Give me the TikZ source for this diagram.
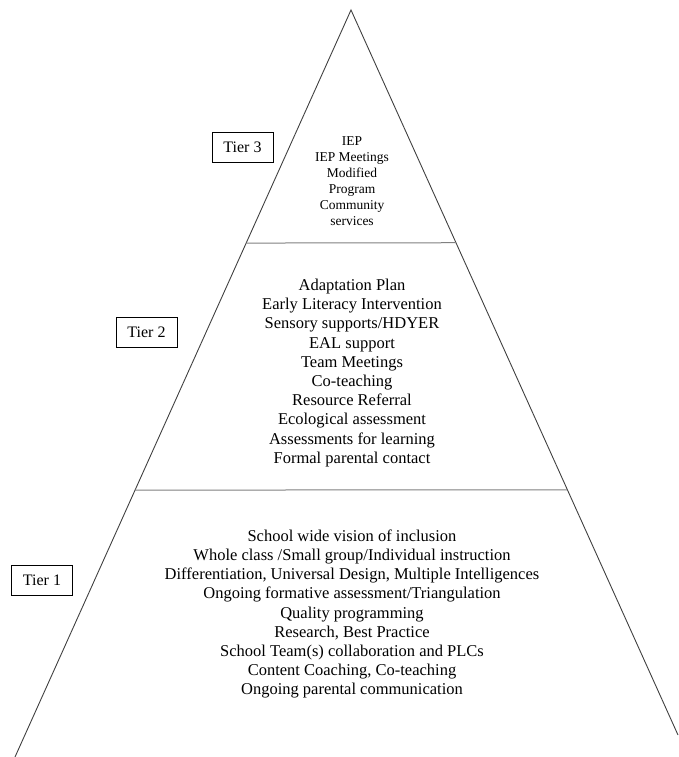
\documentclass[tikz,border=0pt]{standalone}
\usepackage{fontspec}
\setmainfont{Liberation Serif}
\usetikzlibrary{calc}
\tikzset{
  side/.style={draw=black!75,line width=0.9pt},
  split/.style={draw=black!50,line width=1pt},
  tierbox/.style={draw,line width=0.8pt,inner sep=0pt,minimum width=61pt,
                  minimum height=30pt,font=\fontsize{16}{19}\selectfont},
  items/.style={align=center,inner sep=0pt,font=\fontsize{16.5}{19.2}\selectfont},
  topitems/.style={align=center,inner sep=0pt,font=\fontsize{13.5}{16}\selectfont}
}
\begin{document}
\begin{tikzpicture}[x=1pt,y=-1pt]
  \useasboundingbox (0,0) rectangle (678,757);
  \coordinate (apex) at (351,10);
  \coordinate (footL) at (15,757);
  \coordinate (footR) at (678,735);
  \draw[side] (footL) -- (apex) -- (footR);
  % tier boundaries
  \coordinate (t3L) at ($(apex)!0.312!(footL)$);
  \coordinate (t3R) at ($(apex)!0.321!(footR)$);
  \coordinate (t2L) at ($(apex)!0.6426!(footL)$);
  \coordinate (t2R) at ($(apex)!0.662!(footR)$);
  \draw[split] (t3L) -- (t3R);
  \draw[split] (t2L) -- (t2R);
  % labels
  \node[tierbox] (tier3) at (242.5,147) {Tier 3};
  \node[tierbox] (tier2) at (146.5,332.5) {Tier 2};
  \node[tierbox] (tier1) at (42,580) {Tier 1};
  % contents
  \node[topitems] (list3) at (352,181) {IEP\\IEP Meetings\\Modified\\Program\\Community\\services};
  \node[items] (list2) at (352,373) {Adaptation Plan\\Early Literacy Intervention\\
    Sensory supports/HDYER\\EAL support\\Team Meetings\\Co-teaching\\Resource Referral\\
    Ecological assessment\\Assessments for learning\\Formal parental contact};
  \node[items] (list1) at (352,614) {School wide vision of inclusion\\
    Whole class /Small group/Individual instruction\\
    Differentiation, Universal Design, Multiple Intelligences\\
    Ongoing formative assessment/Triangulation\\Quality programming\\
    Research, Best Practice\\School Team(s) collaboration and PLCs\\
    Content Coaching, Co-teaching\\Ongoing parental communication};
\end{tikzpicture}
\end{document}
